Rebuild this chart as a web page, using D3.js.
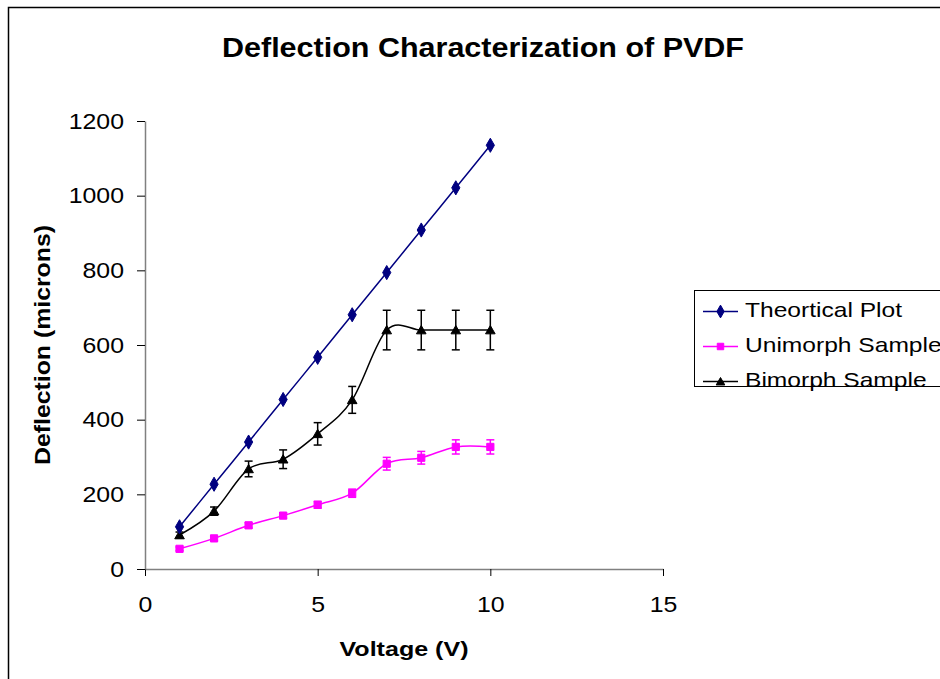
<!DOCTYPE html>
<html>
<head>
<meta charset="utf-8">
<script src="https://cdn.jsdelivr.net/npm/d3@7"></script>
<style>
  html, body { margin: 0; padding: 0; background: #fff; }
  svg { display: block; font-family: "Liberation Sans", Arial, sans-serif; }
</style>
</head>
<body>
<svg id="chart" width="940" height="679"></svg>
<script>
// ---- data ----
const voltages = [1, 2, 3, 4, 5, 6, 7, 8, 9, 10];
const theoretical = [113, 227, 340, 454, 567, 681, 794, 908, 1021, 1135];
const unimorph = [54, 82, 117, 143, 172, 203, 282, 298, 327, 327];
const unimorphErr = [5, 6, 7, 7, 9, 11, 17, 17, 19, 19];
const bimorph = [91, 155, 268, 294, 362, 453, 640, 640, 640, 640];
const bimorphErr = [8, 11, 21, 25, 30, 36, 53, 53, 53, 53];
const xTicks = [0, 5, 10, 15];
const yTicks = [0, 200, 400, 600, 800, 1000, 1200];
const seriesNames = ["Theortical Plot", "Unimorph Sample", "Bimorph Sample"];
const title = "Deflection Characterization of PVDF";
const xTitle = "Voltage (V)";
const yTitle = "Deflection (microns)";

// ---- layout ----
const svg = d3.select("#chart");
const x = d3.scaleLinear().domain([0, 15]).range([145, 663]);
const y = d3.scaleLinear().domain([0, 1200]).range([569, 121]);

function widen(factor) {
  return sel => sel.each(function () {
    const n = this.getComputedTextLength();
    d3.select(this).attr("textLength", n * factor).attr("lengthAdjust", "spacingAndGlyphs");
  });
}

// chart area border
svg.append("rect").attr("x", 8.5).attr("y", 7.5).attr("width", 1000).attr("height", 1000)
  .attr("fill", "none").attr("stroke", "#000").attr("stroke-width", 1.5);

// title
svg.append("text").attr("x", 483).attr("y", 57).attr("text-anchor", "middle")
  .attr("font-size", 27).attr("font-weight", "bold")
  .attr("textLength", 522).attr("lengthAdjust", "spacingAndGlyphs").text(title);

// axes
const xAxis = svg.append("g").attr("transform", "translate(0,569)")
  .call(d3.axisBottom(x).tickValues(xTicks).tickFormat(d3.format("d")).tickSize(7).tickSizeOuter(0).tickPadding(20));
const yAxis = svg.append("g").attr("transform", "translate(145,0)")
  .call(d3.axisLeft(y).tickValues(yTicks).tickFormat(d3.format("d")).tickSize(8).tickSizeOuter(0).tickPadding(13));
[xAxis, yAxis].forEach(g => {
  g.select(".domain").attr("stroke", "#808080").attr("stroke-width", 1.5);
  g.selectAll(".tick line").attr("stroke", "#000").attr("stroke-width", 1);
  g.selectAll(".tick text").attr("font-size", 22).attr("fill", "#000")
    .attr("font-family", "Liberation Sans, Arial, sans-serif").call(widen(1.13));
});

// axis titles
svg.append("text").attr("x", 404).attr("y", 656).attr("text-anchor", "middle")
  .attr("font-size", 21).attr("font-weight", "bold")
  .attr("textLength", 129).attr("lengthAdjust", "spacingAndGlyphs").text(xTitle);
svg.append("text").attr("transform", "translate(50,345) rotate(-90)").attr("text-anchor", "middle")
  .attr("font-size", 22).attr("font-weight", "bold")
  .attr("textLength", 240).attr("lengthAdjust", "spacingAndGlyphs").text(yTitle);

const series = [
  { name: seriesNames[0], vals: theoretical, err: null, color: "#000080", marker: "diamond" },
  { name: seriesNames[1], vals: unimorph, err: unimorphErr, color: "#FF00FF", marker: "square" },
  { name: seriesNames[2], vals: bimorph, err: bimorphErr, color: "#000000", marker: "triangle" }
];

const line = d3.line().x(d => x(d[0])).y(d => y(d[1])).curve(d3.curveCatmullRom.alpha(0));

function drawMarker(g, type, cx, cy, color, scale) {
  const s = scale || 1;
  let sym, area, dy = 0;
  if (type === "diamond") { sym = d3.symbolDiamond; area = 58; }
  else if (type === "square") { sym = d3.symbolSquare; area = 52; }
  else { sym = d3.symbolTriangle; area = 40; dy = 1; }
  g.append("path").attr("d", d3.symbol(sym, area * s * s)())
    .attr("transform", `translate(${cx},${cy + dy})`)
    .attr("fill", color).attr("stroke", color).attr("stroke-width", 1);
}

// draw series in order: bimorph, unimorph, theoretical
series.slice().reverse().forEach(s => {
  const g = svg.append("g");
  const pts = voltages.map((v, i) => [v, s.vals[i]]);
  g.append("path").attr("d", line(pts)).attr("fill", "none").attr("stroke", s.color).attr("stroke-width", 1.5);
  if (s.err) {
    voltages.forEach((v, i) => {
      const cx = x(v), top = y(s.vals[i] + s.err[i]), bot = y(s.vals[i] - s.err[i]);
      g.append("line").attr("x1", cx).attr("x2", cx).attr("y1", top).attr("y2", bot).attr("stroke", s.color).attr("stroke-width", 1.5);
      g.append("line").attr("x1", cx - 4).attr("x2", cx + 4).attr("y1", top).attr("y2", top).attr("stroke", s.color).attr("stroke-width", 1.5);
      g.append("line").attr("x1", cx - 4).attr("x2", cx + 4).attr("y1", bot).attr("y2", bot).attr("stroke", s.color).attr("stroke-width", 1.5);
    });
  }
  pts.forEach(p => drawMarker(g, s.marker, x(p[0]), y(p[1]), s.color));
});

// legend
const lg = svg.append("g");
lg.append("rect").attr("x", 694.5).attr("y", 290.5).attr("width", 300).attr("height", 96)
  .attr("fill", "#fff").attr("stroke", "#000").attr("stroke-width", 1);
const rowsY = [311.5, 346.5, 381.5];
series.forEach((s, i) => {
  lg.append("line").attr("x1", 703).attr("x2", 738).attr("y1", rowsY[i]).attr("y2", rowsY[i])
    .attr("stroke", s.color).attr("stroke-width", 1.5);
  drawMarker(lg, s.marker, 720.5, rowsY[i], s.color, 0.9);
  lg.append("text").attr("x", 745).attr("y", rowsY[i] + 5.5)
    .attr("font-size", 21).attr("fill", "#000").text(s.name).call(widen(1.17));
});
</script>
</body>
</html>
